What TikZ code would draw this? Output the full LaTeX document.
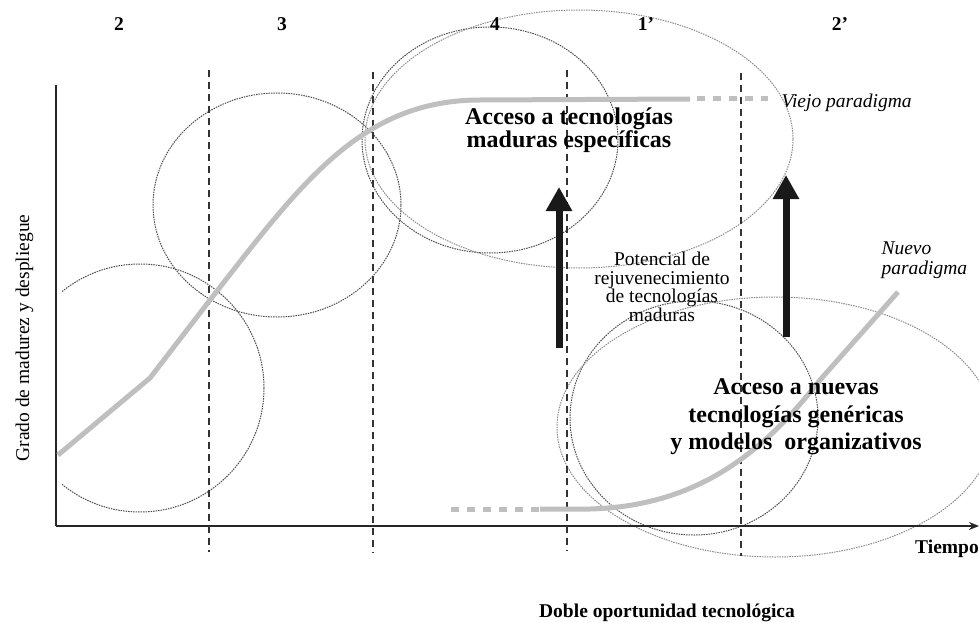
\documentclass[tikz,border=0pt]{standalone}
\usepackage{fontspec}
\setmainfont{Liberation Serif}
\usetikzlibrary{arrows.meta}
\begin{document}
\begin{tikzpicture}[x=1pt,y=-1pt,
  axis/.style={line width=1.8pt, draw=black!85},
  divider/.style={line width=1.3pt, draw=black!80, dash pattern=on 7pt off 5pt},
  zone/.style={line width=1pt, draw=black!70, dash pattern=on 1.5pt off 1pt},
  zonelight/.style={line width=1pt, draw=black!45, dash pattern=on 1.5pt off 1pt},
  curve/.style={line width=5pt, draw=black!25},
  curvedash/.style={line width=5pt, draw=black!25, dash pattern=on 8pt off 8pt},
  bigarrow/.style={line width=7pt, draw=black!90, -{Triangle[width=25pt,length=24pt]}},
  phase/.style={font=\fontsize{19.5}{20}\selectfont\bfseries, anchor=base},
  bigtext/.style={font=\fontsize{24}{19}\selectfont\bfseries, align=center},
  smalltext/.style={font=\fontsize{19.5}{18.5}\selectfont, align=center},
  ittext/.style={font=\fontsize{19.5}{20}\selectfont\itshape, align=left},
]
\useasboundingbox (0,0) rectangle (979,623);

% zones (ellipses)
\begin{scope}
  \clip (62,0) rectangle (400,623);
  \draw[zone] (140,388) circle [radius=124pt];
\end{scope}
\draw[zone] (277,205) ellipse [x radius=124pt, y radius=112pt];
\draw[zone] (490,140) ellipse [x radius=128pt, y radius=113pt];
\draw[zonelight] (579,139) ellipse [x radius=214pt, y radius=129pt];
\draw[zone] (694,418) ellipse [x radius=124pt, y radius=117pt];
\draw[zonelight] (775,427) ellipse [x radius=218pt, y radius=130pt];

% axes
\coordinate (origin) at (56,526);
\coordinate (ytop) at (56,85);
\coordinate (xend) at (979,526);
\draw[axis] (ytop) -- (origin);
\draw[axis, -{Stealth[length=10pt,width=8pt]}] (origin) -- (xend);

% dividers
\coordinate (d1t) at (209,70);  \coordinate (d1b) at (209,552);
\coordinate (d2t) at (373,72);  \coordinate (d2b) at (373,553);
\coordinate (d3t) at (567,70);  \coordinate (d3b) at (567,551);
\coordinate (d4t) at (741,73);  \coordinate (d4b) at (741,556);
\draw[divider] (d1t) -- (d1b);
\draw[divider] (d2t) -- (d2b);
\draw[divider] (d3t) -- (d3b);
\draw[divider] (d4t) -- (d4b);

% old paradigm curve
\coordinate (o0) at (58,455);
\coordinate (o1) at (150,378);
\coordinate (o2) at (210,300);
\coordinate (o3) at (480,100);
\coordinate (o4) at (690,99);
\coordinate (o5) at (768,99);
\draw[curve] (o0) -- (o1) -- (o2) .. controls (300,185) and (360,100) .. (o3) -- (o4);
\draw[curvedash] ([xshift=7pt]o4) -- (o5);

% new paradigm curve
\coordinate (n0) at (451,509);
\coordinate (n1) at (540,509);
\coordinate (n2) at (590,509);
\coordinate (n3) at (820,380);
\coordinate (n4) at (898,292);
\draw[curvedash] (n0) -- (n1);
\draw[curve] (n1) -- (n2) .. controls (700,506) and (765,450) .. (n3) -- (n4);

% arrows
\coordinate (a1s) at (559,348); \coordinate (a1e) at (559,187);
\coordinate (a2s) at (786,337); \coordinate (a2e) at (786,175);
\draw[bigarrow] (a1s) -- (a1e);
\draw[bigarrow] (a2s) -- (a2e);

% phase labels
\node[phase] (p2) at (119,31) {2};
\node[phase] (p3) at (282,31) {3};
\node[phase] (p4) at (495,31) {4};
\node[phase] (p1b) at (646,31) {1’};
\node[phase] (p2b) at (840,31) {2’};

% texts
\node[bigtext] (mature) at (569,130) {Acceso a tecnologías\\maduras específicas};
\node[bigtext, font=\fontsize{24}{27.5}\selectfont\bfseries] (newacc) at (796,417) {Acceso a nuevas\\tecnologías genéricas\\y modelos\ \ organizativos};
\node[smalltext] (potencial) at (662,287) {Potencial de\\rejuvenecimiento\\de tecnologías\\maduras};
\node[ittext, anchor=base west] (viejo) at (778,107) {Viejo paradigma};
\node[ittext, anchor=north west] (nuevo) at (878,238) {Nuevo\\paradigma};
\node[phase] (tiempo) at (947,553) {Tiempo};
\node[phase] (doble) at (667,617) {Doble oportunidad tecnológica};
\node[font=\fontsize{19.5}{20}\selectfont, rotate=90, anchor=base] (ylabel) at (29,338) {Grado de madurez y despliegue};
\end{tikzpicture}
\end{document}
